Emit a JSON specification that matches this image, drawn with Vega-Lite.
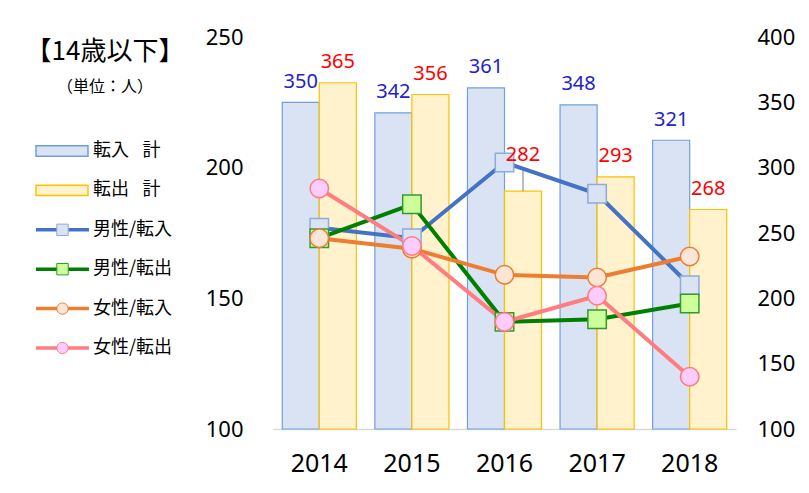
{
  "$schema": "https://vega.github.io/schema/vega-lite/v6.json",
  "background": "white",
  "padding": {"left": 25, "top": 26, "right": 5, "bottom": 5},
  "spacing": 93,
  "bounds": "flush",
  "config": {
    "view": {"stroke": null},
    "font": "Noto Sans CJK JP",
    "axis": {"labelFont": "Noto Sans", "labelColor": "#000000", "grid": false, "ticks": false, "tickSize": 0, "domain": false, "title": null}
  },
  "hconcat": [
    {
      "width": 150,
      "height": 392,
      "title": {
        "text": "【14歳以下】",
        "subtitle": "（単位：人）",
        "anchor": "middle",
        "frame": "group",
        "font": "Noto Sans CJK JP",
        "fontSize": 26,
        "fontWeight": "normal",
        "color": "#000000",
        "subtitleFont": "Noto Sans CJK JP",
        "subtitleFontSize": 16,
        "subtitleColor": "#000000",
        "subtitlePadding": 14,
        "offset": -58
      },
      "data": {"values": [
        {"series": "転入\u2002\u2005計", "kind": "bar"},
        {"series": "転出\u2002\u2005計", "kind": "bar"},
        {"series": "男性/転入", "kind": "line"},
        {"series": "男性/転出", "kind": "line"},
        {"series": "女性/転入", "kind": "line"},
        {"series": "女性/転出", "kind": "line"}
      ]},
      "encoding": {
        "y": {"field": "series", "type": "nominal", "axis": null,
          "scale": {"type": "point", "padding": 0, "range": [114, 311], "domain": ["転入\u2002\u2005計", "転出\u2002\u2005計", "男性/転入", "男性/転出", "女性/転入", "女性/転出"]}}
      },
      "layer": [
        {
          "transform": [{"filter": "datum.kind === 'line'"}],
          "mark": {"type": "rule", "strokeWidth": 3.5},
          "encoding": {
            "x": {"datum": 0.04, "type": "quantitative", "scale": {"domain": [0, 1]}, "axis": null},
            "x2": {"datum": 0.393},
            "color": {"field": "series", "type": "nominal", "legend": null,
              "scale": {"domain": ["男性/転入", "男性/転出", "女性/転入", "女性/転出"], "range": ["#4472C4", "#008000", "#ED7D31", "#FF7C80"]}}
          }
        },
        {
          "transform": [{"filter": "datum.kind === 'bar'"}],
          "mark": {"type": "point", "filled": true, "opacity": 1, "shape": "M-1,-0.2H1V0.2H-1Z", "size": 2704, "strokeWidth": 1.5},
          "encoding": {
            "x": {"datum": 0.2133, "type": "quantitative", "scale": {"domain": [0, 1]}, "axis": null},
            "fill": {"field": "series", "type": "nominal", "legend": null,
              "scale": {"domain": ["転入\u2002\u2005計", "転出\u2002\u2005計", "男性/転入", "男性/転出", "女性/転入", "女性/転出"], "range": ["#DAE3F3", "#FFF2CC", "#DAE3F3", "#CCFF99", "#FBE5D6", "#FFCCFF"]}},
            "stroke": {"field": "series", "type": "nominal", "legend": null,
              "scale": {"domain": ["転入\u2002\u2005計", "転出\u2002\u2005計", "男性/転入", "男性/転出", "女性/転入", "女性/転出"], "range": ["#6FA0DC", "#FFC000", "#8FAADC", "#339933", "#ED7D31", "#FF7C80"]}}
          }
        },
        {
          "transform": [{"filter": "datum.kind === 'line'"}],
          "mark": {"type": "point", "filled": true, "opacity": 1, "size": 130, "strokeWidth": 1},
          "encoding": {
            "x": {"datum": 0.2167, "type": "quantitative", "scale": {"domain": [0, 1]}, "axis": null},
            "shape": {"field": "series", "type": "nominal", "legend": null,
              "scale": {"domain": ["男性/転入", "男性/転出", "女性/転入", "女性/転出"], "range": ["square", "square", "circle", "circle"]}},
            "fill": {"field": "series", "type": "nominal", "legend": null,
              "scale": {"domain": ["転入\u2002\u2005計", "転出\u2002\u2005計", "男性/転入", "男性/転出", "女性/転入", "女性/転出"], "range": ["#DAE3F3", "#FFF2CC", "#DAE3F3", "#CCFF99", "#FBE5D6", "#FFCCFF"]}},
            "stroke": {"field": "series", "type": "nominal", "legend": null,
              "scale": {"domain": ["転入\u2002\u2005計", "転出\u2002\u2005計", "男性/転入", "男性/転出", "女性/転入", "女性/転出"], "range": ["#6FA0DC", "#FFC000", "#8FAADC", "#339933", "#ED7D31", "#FF7C80"]}}
          }
        },
        {
          "mark": {"type": "text", "align": "left", "baseline": "middle", "fontSize": 18, "font": "Noto Sans CJK JP", "color": "#000000"},
          "encoding": {
            "x": {"datum": 0.42, "type": "quantitative", "scale": {"domain": [0, 1]}, "axis": null},
            "text": {"field": "series"}
          }
        }
      ]
    },
    {
      "width": 463,
      "height": 392,
      "data": {"values": [
        {"year": "2014", "series": "転入\u2002\u2005計", "kind": "bar", "value": 350},
        {"year": "2015", "series": "転入\u2002\u2005計", "kind": "bar", "value": 342},
        {"year": "2016", "series": "転入\u2002\u2005計", "kind": "bar", "value": 361},
        {"year": "2017", "series": "転入\u2002\u2005計", "kind": "bar", "value": 348},
        {"year": "2018", "series": "転入\u2002\u2005計", "kind": "bar", "value": 321},
        {"year": "2014", "series": "転出\u2002\u2005計", "kind": "bar", "value": 365},
        {"year": "2015", "series": "転出\u2002\u2005計", "kind": "bar", "value": 356},
        {"year": "2016", "series": "転出\u2002\u2005計", "kind": "bar", "value": 282},
        {"year": "2017", "series": "転出\u2002\u2005計", "kind": "bar", "value": 293},
        {"year": "2018", "series": "転出\u2002\u2005計", "kind": "bar", "value": 268},
        {"year": "2014", "series": "男性/転入", "kind": "line", "value": 177},
        {"year": "2015", "series": "男性/転入", "kind": "line", "value": 173},
        {"year": "2016", "series": "男性/転入", "kind": "line", "value": 202},
        {"year": "2017", "series": "男性/転入", "kind": "line", "value": 190},
        {"year": "2018", "series": "男性/転入", "kind": "line", "value": 155},
        {"year": "2014", "series": "男性/転出", "kind": "line", "value": 173},
        {"year": "2015", "series": "男性/転出", "kind": "line", "value": 186},
        {"year": "2016", "series": "男性/転出", "kind": "line", "value": 141},
        {"year": "2017", "series": "男性/転出", "kind": "line", "value": 142},
        {"year": "2018", "series": "男性/転出", "kind": "line", "value": 148},
        {"year": "2014", "series": "女性/転入", "kind": "line", "value": 173},
        {"year": "2015", "series": "女性/転入", "kind": "line", "value": 169},
        {"year": "2016", "series": "女性/転入", "kind": "line", "value": 159},
        {"year": "2017", "series": "女性/転入", "kind": "line", "value": 158},
        {"year": "2018", "series": "女性/転入", "kind": "line", "value": 166},
        {"year": "2014", "series": "女性/転出", "kind": "line", "value": 192},
        {"year": "2015", "series": "女性/転出", "kind": "line", "value": 170},
        {"year": "2016", "series": "女性/転出", "kind": "line", "value": 141},
        {"year": "2017", "series": "女性/転出", "kind": "line", "value": 151},
        {"year": "2018", "series": "女性/転出", "kind": "line", "value": 120}
      ]},
      "encoding": {
        "x": {"field": "year", "type": "ordinal",
          "scale": {"paddingInner": 0.2, "paddingOuter": 0.1},
          "axis": {"labelAngle": 0, "labelFontSize": 25, "labelPadding": 22, "domain": true, "domainColor": "#D9D9D9", "domainWidth": 1.5, "ticks": false, "title": null}}
      },
      "layer": [
        {
          "transform": [{"filter": "datum.kind === 'bar'"}],
          "encoding": {
            "y": {"field": "value", "type": "quantitative",
              "scale": {"domain": [100, 400], "zero": false, "nice": false},
              "axis": {"orient": "right", "values": [100, 150, 200, 250, 300, 350, 400], "labelFontSize": 22, "labelPadding": 21, "title": null}},
            "xOffset": {"field": "series", "type": "nominal", "scale": {"domain": ["転入\u2002\u2005計", "転出\u2002\u2005計"], "paddingInner": 0, "paddingOuter": 0}}
          },
          "layer": [
            {
              "mark": {"type": "bar", "strokeWidth": 1.2},
              "encoding": {
                "y2": {"datum": 100},
                "fill": {"field": "series", "type": "nominal", "legend": null,
                  "scale": {"domain": ["転入\u2002\u2005計", "転出\u2002\u2005計", "男性/転入", "男性/転出", "女性/転入", "女性/転出"], "range": ["#DAE3F3", "#FFF2CC", "#DAE3F3", "#CCFF99", "#FBE5D6", "#FFCCFF"]}},
                "stroke": {"field": "series", "type": "nominal", "legend": null,
                  "scale": {"domain": ["転入\u2002\u2005計", "転出\u2002\u2005計", "男性/転入", "男性/転出", "女性/転入", "女性/転出"], "range": ["#6FA0DC", "#FFC000", "#8FAADC", "#339933", "#ED7D31", "#FF7C80"]}}
              }
            },
            {
              "transform": [{"filter": "datum.year === '2016' && datum.kind === 'bar' && datum.value === 282"}],
              "mark": {"type": "rule", "color": "#A6A6A6", "strokeWidth": 1.5},
              "encoding": {"y2": {"datum": 300}}
            }
          ]
        },
        {
          "transform": [{"filter": "datum.kind === 'line'"}],
          "encoding": {
            "y": {"field": "value", "type": "quantitative",
              "scale": {"domain": [100, 250], "zero": false, "nice": false},
              "axis": {"orient": "left", "values": [100, 150, 200, 250], "labelFontSize": 22, "labelPadding": 30, "title": null}}
          },
          "layer": [
            {
              "mark": {"type": "line", "strokeWidth": 4},
              "encoding": {
                "color": {"field": "series", "type": "nominal", "legend": null,
                  "scale": {"domain": ["男性/転入", "男性/転出", "女性/転入", "女性/転出"], "range": ["#4472C4", "#008000", "#ED7D31", "#FF7C80"]}}
              }
            },
            {
              "mark": {"type": "point", "filled": true, "opacity": 1, "size": 340, "strokeWidth": 1.5},
              "encoding": {
                "shape": {"field": "series", "type": "nominal", "legend": null,
                  "scale": {"domain": ["男性/転入", "男性/転出", "女性/転入", "女性/転出"], "range": ["square", "square", "circle", "circle"]}},
                "fill": {"field": "series", "type": "nominal", "legend": null,
                  "scale": {"domain": ["転入\u2002\u2005計", "転出\u2002\u2005計", "男性/転入", "男性/転出", "女性/転入", "女性/転出"], "range": ["#DAE3F3", "#FFF2CC", "#DAE3F3", "#CCFF99", "#FBE5D6", "#FFCCFF"]}},
                "stroke": {"field": "series", "type": "nominal", "legend": null,
                  "scale": {"domain": ["転入\u2002\u2005計", "転出\u2002\u2005計", "男性/転入", "男性/転出", "女性/転入", "女性/転出"], "range": ["#6FA0DC", "#FFC000", "#8FAADC", "#339933", "#ED7D31", "#FF7C80"]}}
              }
            }
          ]
        },
        {
          "transform": [{"filter": "datum.kind === 'bar'"}],
          "encoding": {
            "y": {"field": "value", "type": "quantitative", "scale": {"domain": [100, 400], "zero": false, "nice": false}, "axis": null},
            "xOffset": {"field": "series", "type": "nominal", "scale": {"domain": ["転入\u2002\u2005計", "転出\u2002\u2005計"], "paddingInner": 0, "paddingOuter": 0}},
            "text": {"field": "value", "type": "quantitative"},
            "color": {"condition": {"test": "indexof(datum.series, '転入') === 0", "value": "#2222CC"}, "value": "#FF0000"}
          },
          "layer": [
            {
              "transform": [{"filter": "!(datum.year === '2016' && datum.value === 282)"}],
              "mark": {"type": "text", "font": "Noto Sans", "fontSize": 20, "baseline": "alphabetic", "dy": -14.5}
            },
            {
              "transform": [{"filter": "datum.year === '2016' && datum.value === 282"}],
              "mark": {"type": "text", "font": "Noto Sans", "fontSize": 20, "baseline": "alphabetic", "dy": -30.5}
            }
          ]
        }
      ],
      "resolve": {"scale": {"y": "independent"}, "axis": {"y": "independent"}}
    }
  ]
}
